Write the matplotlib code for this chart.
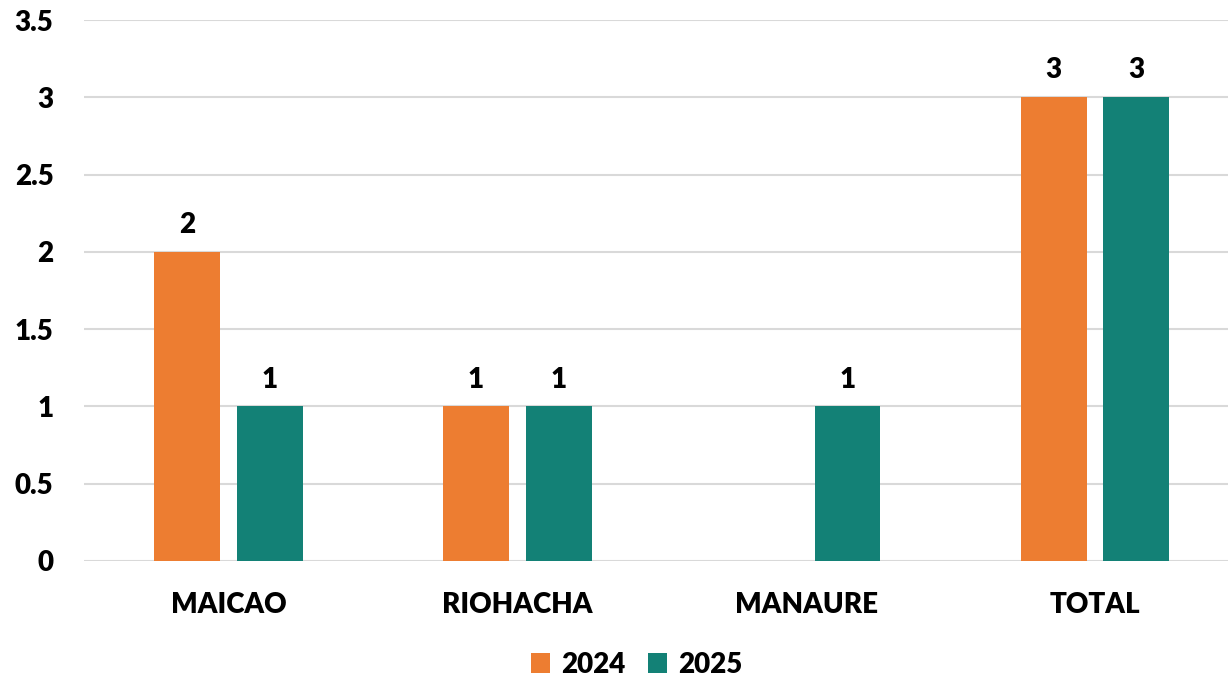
import numpy as np
import matplotlib.pyplot as plt

categories = ["MAICAO", "RIOHACHA", "MANAURE", "TOTAL"]
series_names = ["2024", "2025"]
values_2024 = [2, 1, 0, 3]
values_2025 = [1, 1, 1, 3]

orange = "#ED7D31"
teal = "#138176"

plt.rcParams["font.family"] = ["Lato", "DejaVu Sans"]
plt.rcParams["font.weight"] = "heavy"

fig = plt.figure(figsize=(12.28, 6.78), dpi=100)
ax = fig.add_axes([0.0684, 0.1726, 0.9316, 0.7979])

x = np.arange(len(categories))
width = 0.228
offset = 0.143
fs = 20

bars_a = ax.bar(x - offset, values_2024, width, color=orange, label=series_names[0], zorder=3)
bars_b = ax.bar(x + offset, values_2025, width, color=teal, label=series_names[1], zorder=3)

for bars, vals in [(bars_a, values_2024), (bars_b, values_2025)]:
    for b, v in zip(bars, vals):
        if v == 0:
            continue
        ax.annotate(str(v), (b.get_x() + b.get_width() / 2, v),
                    xytext=(0, 10), textcoords="offset points",
                    ha="center", va="bottom", fontsize=fs, fontweight="heavy")

ax.set_ylim(0, 3.5)
ax.set_xlim(-0.5, 3.46)
ax.set_yticks(np.arange(0, 3.51, 0.5))
ax.set_yticklabels(["0", "0.5", "1", "1.5", "2", "2.5", "3", "3.5"])
ax.set_xticks(x)
ax.set_xticklabels(categories)
ax.tick_params(axis="y", length=0, pad=22, labelsize=fs)
ax.tick_params(axis="x", length=0, pad=22, labelsize=fs)
for lab in ax.get_yticklabels() + ax.get_xticklabels():
    lab.set_fontweight("heavy")

ax.yaxis.grid(True, color="#d9d9d9", linewidth=1.5, zorder=0)
for s in ax.spines.values():
    s.set_visible(False)

leg = ax.legend(loc="lower center", bbox_to_anchor=(0.483, -0.262), ncol=2, frameon=False,
                fontsize=fs, handlelength=0.7, handleheight=0.7, columnspacing=0.8,
                handletextpad=0.4)
for t in leg.get_texts():
    t.set_fontweight("heavy")

fig.savefig("out.png", dpi=100)
